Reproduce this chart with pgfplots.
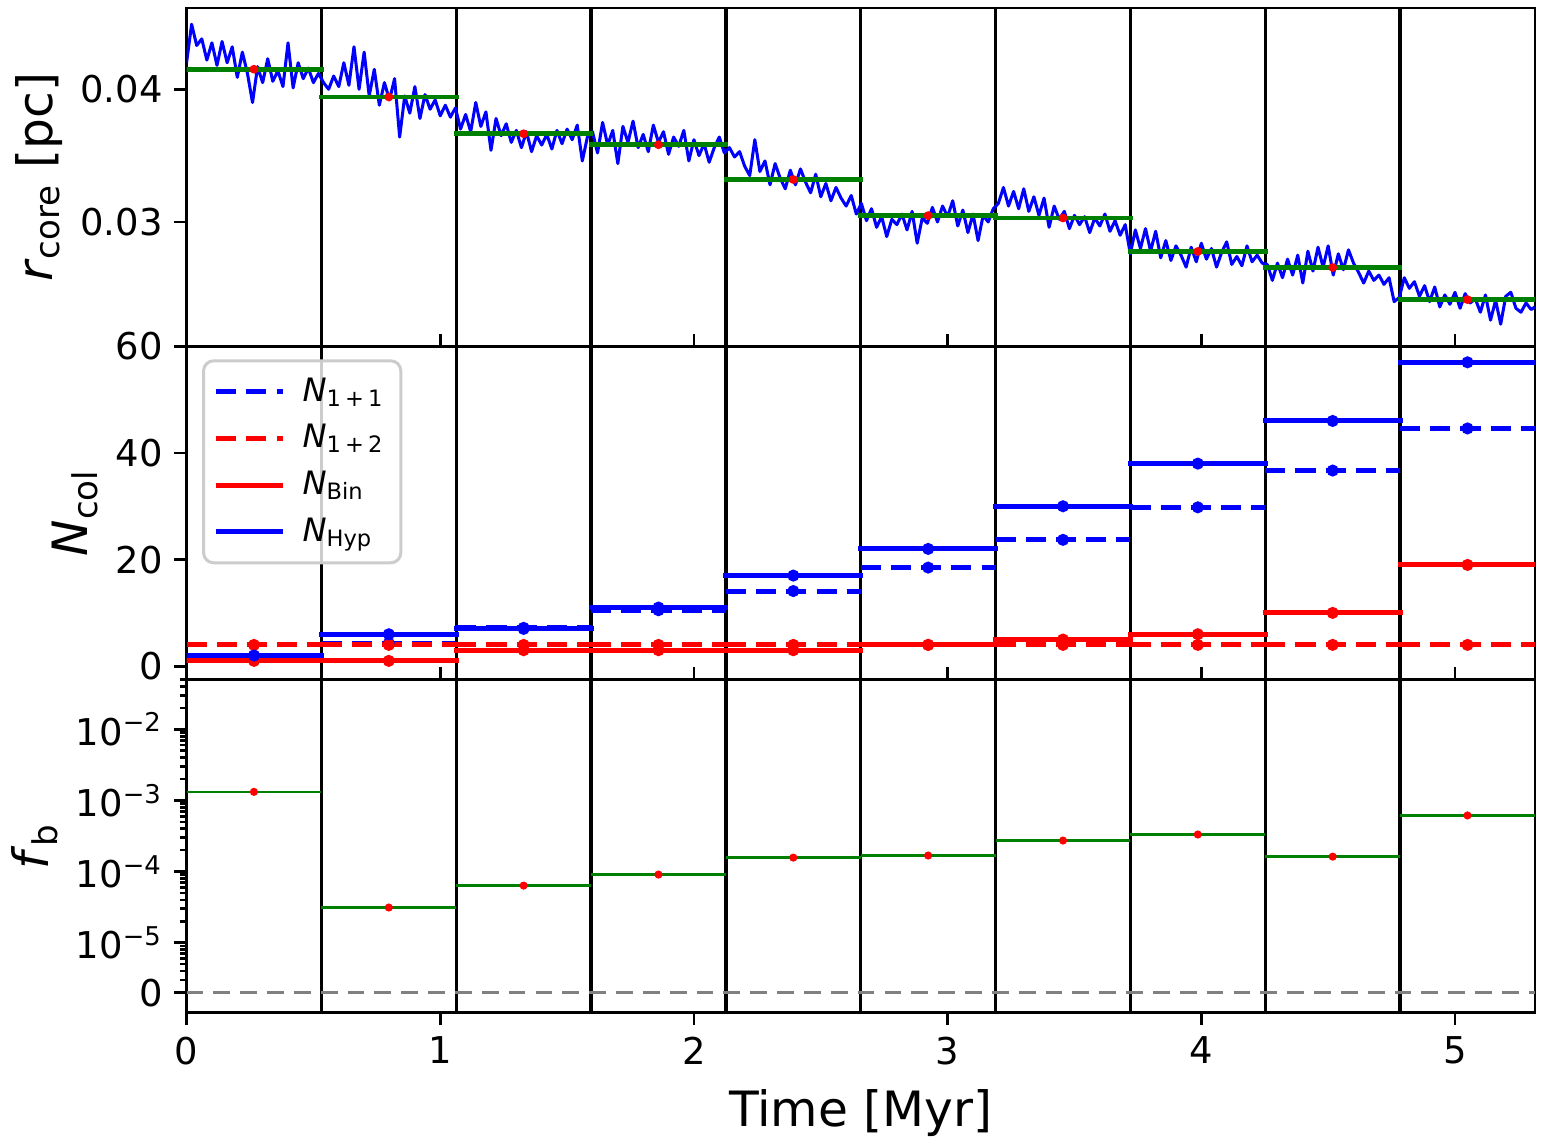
\documentclass[border=0pt]{standalone}
\usepackage{fontspec}
\setmainfont{DejaVu Sans}
\usepackage{pgfplots}
\pgfplotsset{compat=1.18}
\definecolor{mplgreen}{HTML}{008000}
\definecolor{mplred}{HTML}{FF0000}
\definecolor{mplblue}{HTML}{0000FF}

\pgfplotsset{
  chart/.style={
    scale only axis, width=401.8pt, xmin=0, xmax=5.315,
    axis line style={line width=0.8pt},
    tick style={black, line width=0.8pt},
    major tick length=3.6pt, minor tick length=2.1pt,
    tick pos=left, ytick align=outside,
    tick label style={font=\fontsize{11}{13}\selectfont},
    label style={font=\fontsize{14.5}{17}\selectfont},
    ylabel shift=-1.5pt,
    /pgf/number format/assume math mode=true,
    scaled y ticks=false,
    xtick={0,1,2,3,4,5},
    extra x ticks={0.5315,1.063,1.5945,2.126,2.6575,3.189,3.7205,4.252,4.7835},
    extra x tick labels={},
    extra x tick style={grid=major, major grid style={black, line width=1pt}, major tick length=0pt},
    unbounded coords=jump,
  },
  dashedline/.style={dash pattern=on 6pt off 3pt},
}

\pgfplotstableread{
x y
0.00 0.0420
0.02 0.0449
0.04 0.0433
0.06 0.0438
0.08 0.0422
0.10 0.0435
0.12 0.0418
0.14 0.0436
0.16 0.0420
0.18 0.0432
0.20 0.0409
0.22 0.0428
0.24 0.0412
0.26 0.0390
0.28 0.0417
0.30 0.0405
0.32 0.0423
0.34 0.0406
0.36 0.0414
0.38 0.0402
0.40 0.0435
0.42 0.0401
0.44 0.0420
0.46 0.0408
0.48 0.0416
0.50 0.0405
0.52 0.0412
0.54 0.0405
0.56 0.0400
0.58 0.0410
0.60 0.0402
0.62 0.0420
0.64 0.0403
0.66 0.0432
0.68 0.0400
0.70 0.0428
0.72 0.0395
0.74 0.0415
0.76 0.0388
0.78 0.0405
0.80 0.0392
0.82 0.0408
0.84 0.0364
0.86 0.0395
0.88 0.0382
0.90 0.0402
0.92 0.0378
0.94 0.0396
0.96 0.0385
0.98 0.0392
1.00 0.0380
1.02 0.0388
1.04 0.0379
1.06 0.0386
1.08 0.0370
1.10 0.0381
1.12 0.0368
1.14 0.0390
1.16 0.0372
1.18 0.0383
1.20 0.0354
1.22 0.0378
1.24 0.0365
1.26 0.0374
1.28 0.0360
1.30 0.0369
1.32 0.0356
1.34 0.0368
1.36 0.0353
1.38 0.0365
1.40 0.0358
1.42 0.0366
1.44 0.0355
1.46 0.0369
1.48 0.0359
1.50 0.0370
1.52 0.0362
1.54 0.0373
1.56 0.0346
1.58 0.0364
1.60 0.0368
1.62 0.0352
1.64 0.0375
1.66 0.0358
1.68 0.0369
1.70 0.0344
1.72 0.0372
1.74 0.0360
1.76 0.0376
1.78 0.0356
1.80 0.0366
1.82 0.0353
1.84 0.0373
1.86 0.0360
1.88 0.0368
1.90 0.0351
1.92 0.0364
1.94 0.0357
1.96 0.0369
1.98 0.0346
2.00 0.0362
2.02 0.0350
2.04 0.0359
2.06 0.0345
2.08 0.0356
2.10 0.0364
2.12 0.0352
2.14 0.0356
2.16 0.0349
2.18 0.0353
2.20 0.0342
2.22 0.0335
2.24 0.0362
2.26 0.0338
2.28 0.0346
2.30 0.0328
2.32 0.0344
2.34 0.0333
2.36 0.0325
2.38 0.0339
2.40 0.0328
2.42 0.0340
2.44 0.0330
2.46 0.0322
2.48 0.0336
2.50 0.0319
2.52 0.0329
2.54 0.0316
2.56 0.0326
2.58 0.0318
2.60 0.0312
2.62 0.0320
2.64 0.0306
2.66 0.0314
2.68 0.0301
2.70 0.0310
2.72 0.0296
2.74 0.0304
2.76 0.0289
2.78 0.0302
2.80 0.0298
2.82 0.0306
2.84 0.0294
2.86 0.0308
2.88 0.0284
2.90 0.0303
2.92 0.0299
2.94 0.0311
2.96 0.0300
2.98 0.0312
3.00 0.0304
3.02 0.0316
3.04 0.0297
3.06 0.0309
3.08 0.0292
3.10 0.0306
3.12 0.0286
3.14 0.0305
3.16 0.0300
3.18 0.0310
3.20 0.0314
3.22 0.0326
3.24 0.0312
3.26 0.0323
3.28 0.0310
3.30 0.0325
3.32 0.0308
3.34 0.0319
3.36 0.0305
3.38 0.0318
3.40 0.0296
3.42 0.0312
3.44 0.0302
3.46 0.0308
3.48 0.0295
3.50 0.0305
3.52 0.0298
3.54 0.0304
3.56 0.0292
3.58 0.0303
3.60 0.0297
3.62 0.0306
3.64 0.0293
3.66 0.0301
3.68 0.0290
3.70 0.0298
3.72 0.0276
3.74 0.0294
3.76 0.0280
3.78 0.0295
3.80 0.0278
3.82 0.0293
3.84 0.0273
3.86 0.0286
3.88 0.0271
3.90 0.0282
3.92 0.0275
3.94 0.0266
3.96 0.0281
3.98 0.0270
4.00 0.0284
4.02 0.0272
4.04 0.0280
4.06 0.0266
4.08 0.0277
4.10 0.0285
4.12 0.0268
4.14 0.0274
4.16 0.0267
4.18 0.0282
4.20 0.0270
4.22 0.0275
4.24 0.0269
4.26 0.0268
4.28 0.0256
4.30 0.0269
4.32 0.0258
4.34 0.0272
4.36 0.0260
4.38 0.0275
4.40 0.0254
4.42 0.0278
4.44 0.0263
4.46 0.0281
4.48 0.0266
4.50 0.0282
4.52 0.0260
4.54 0.0276
4.56 0.0264
4.58 0.0279
4.60 0.0269
4.62 0.0262
4.64 0.0254
4.66 0.0263
4.68 0.0256
4.70 0.0260
4.72 0.0253
4.74 0.0258
4.76 0.0240
4.78 0.0243
4.80 0.0258
4.82 0.0250
4.84 0.0255
4.86 0.0244
4.88 0.0252
4.90 0.0240
4.92 0.0251
4.94 0.0236
4.96 0.0245
4.98 0.0238
5.00 0.0247
5.02 0.0235
5.04 0.0246
5.06 0.0239
5.08 0.0242
5.10 0.0232
5.12 0.0245
5.14 0.0226
5.16 0.0241
5.18 0.0223
5.20 0.0244
5.22 0.0247
5.24 0.0235
5.26 0.0232
5.28 0.0239
5.30 0.0234
5.315 0.0236
}\rcore

% bin centres and binned values
\pgfplotstableread{
x rc N11 N12 NBin NHyp fb
0.26575 0.04151 2.0 4 1 2 1.32e-3
0.79725 0.03942 4.3 4 1 6 3.12e-5
1.32875 0.03665 7.2 4 3 7 6.35e-5
1.86025 0.03582 10.5 4 3 11 9.08e-5
2.39175 0.03320 14.1 4 3 17 1.57e-4
2.92325 0.03048 18.5 4 4 22 1.68e-4
3.45475 0.03030 23.7 4 5 30 2.73e-4
3.98625 0.02778 29.8 4 6 38 3.32e-4
4.51775 0.02657 36.7 4 10 46 1.62e-4
5.04925 0.02415 44.6 4 19 57 6.15e-4
}\bins

\begin{document}
\begin{tikzpicture}
% ---------------- top panel ----------------
\begin{axis}[chart, name=top, height=100.8pt,
  ymin=0.02063, ymax=0.04612, ytick={0.03,0.04}, yticklabels={0.03,0.04},
  xticklabels={}, xtick align=inside,
  ylabel={\textit{r}\textsubscript{core} [pc]}]
\addplot[mplblue, line width=0.9pt, line join=round] table[x=x,y=y] {\rcore};
\addplot[only marks, mark=*, mark size=1.1pt, mplred] table[x=x,y=rc] {\bins};
\addplot[mplgreen, line width=1.4pt, line cap=rect] coordinates {
(0,0.04151)(0.5315,0.04151)(0.5315,nan)
(0.5315,0.03942)(1.063,0.03942)(1.063,nan)
(1.063,0.03665)(1.5945,0.03665)(1.5945,nan)
(1.5945,0.03582)(2.126,0.03582)(2.126,nan)
(2.126,0.03320)(2.6575,0.03320)(2.6575,nan)
(2.6575,0.03048)(3.189,0.03048)(3.189,nan)
(3.189,0.03030)(3.7205,0.03030)(3.7205,nan)
(3.7205,0.02778)(4.252,0.02778)(4.252,nan)
(4.252,0.02657)(4.7835,0.02657)(4.7835,nan)
(4.7835,0.02415)(5.315,0.02415)};
\end{axis}
% ---------------- middle panel ----------------
\begin{axis}[chart, name=mid, at={(top.south west)}, anchor=north west, height=99.2pt,
  ymin=-2.44, ymax=60, ytick={0,20,40,60},
  xticklabels={}, xtick align=inside,
  ylabel={\textit{N}\textsubscript{col}},
  legend image code/.code={\draw[#1] (0pt,0pt) -- (20pt,0pt);},
  legend style={at={(0.0115,0.961)}, anchor=north west,
    draw=black!20, line width=0.9pt, rounded corners=3pt,
    fill=white, fill opacity=0.8, text opacity=1,
    font=\fontsize{9.6}{11}\selectfont, row sep=1.4pt,
    inner xsep=3pt, inner ysep=3pt,
    /tikz/every odd column/.append style={column sep=3pt},
    cells={anchor=west}}]
\addlegendimage{mplblue, line width=1.5pt, dashedline}
\addlegendentry{\textit{N}\textsubscript{1\hspace{0.18em}+\hspace{0.18em}1}}
\addlegendimage{mplred, line width=1.5pt, dashedline}
\addlegendentry{\textit{N}\textsubscript{1\hspace{0.18em}+\hspace{0.18em}2}}
\addlegendimage{mplred, line width=1.5pt}
\addlegendentry{\textit{N}\textsubscript{Bin}}
\addlegendimage{mplblue, line width=1.5pt}
\addlegendentry{\textit{N}\textsubscript{Hyp}}
% N_{1+1}
\addplot[forget plot, mplblue, line width=1.5pt, dashedline] coordinates {
(0,2.0)(0.5315,2.0)(0.5315,nan)
(0.5315,4.3)(1.063,4.3)(1.063,nan)
(1.063,7.2)(1.5945,7.2)(1.5945,nan)
(1.5945,10.5)(2.126,10.5)(2.126,nan)
(2.126,14.1)(2.6575,14.1)(2.6575,nan)
(2.6575,18.5)(3.189,18.5)(3.189,nan)
(3.189,23.7)(3.7205,23.7)(3.7205,nan)
(3.7205,29.8)(4.252,29.8)(4.252,nan)
(4.252,36.7)(4.7835,36.7)(4.7835,nan)
(4.7835,44.6)(5.315,44.6)};
\addplot[forget plot, only marks, mark=*, mark size=1.6pt, mplblue] table[x=x,y=N11] {\bins};
% N_{1+2}
\addplot[forget plot, mplred, line width=1.5pt, dashedline] coordinates {
(0,4)(0.5315,4)(0.5315,nan)
(0.5315,4)(1.063,4)(1.063,nan)
(1.063,4)(1.5945,4)(1.5945,nan)
(1.5945,4)(2.126,4)(2.126,nan)
(2.126,4)(2.6575,4)(2.6575,nan)
(2.6575,4)(3.189,4)(3.189,nan)
(3.189,4)(3.7205,4)(3.7205,nan)
(3.7205,4)(4.252,4)(4.252,nan)
(4.252,4)(4.7835,4)(4.7835,nan)
(4.7835,4)(5.315,4)};
\addplot[forget plot, only marks, mark=*, mark size=1.6pt, mplred] table[x=x,y=N12] {\bins};
% N_Bin
\addplot[forget plot, mplred, line width=1.5pt, line cap=rect] coordinates {
(0,1)(0.5315,1)(0.5315,nan)
(0.5315,1)(1.063,1)(1.063,nan)
(1.063,3)(1.5945,3)(1.5945,nan)
(1.5945,3)(2.126,3)(2.126,nan)
(2.126,3)(2.6575,3)(2.6575,nan)
(2.6575,4)(3.189,4)(3.189,nan)
(3.189,5)(3.7205,5)(3.7205,nan)
(3.7205,6)(4.252,6)(4.252,nan)
(4.252,10)(4.7835,10)(4.7835,nan)
(4.7835,19)(5.315,19)};
\addplot[forget plot, only marks, mark=*, mark size=1.6pt, mplred] table[x=x,y=NBin] {\bins};
% N_Hyp
\addplot[forget plot, mplblue, line width=1.5pt, line cap=rect] coordinates {
(0,2)(0.5315,2)(0.5315,nan)
(0.5315,6)(1.063,6)(1.063,nan)
(1.063,7)(1.5945,7)(1.5945,nan)
(1.5945,11)(2.126,11)(2.126,nan)
(2.126,17)(2.6575,17)(2.6575,nan)
(2.6575,22)(3.189,22)(3.189,nan)
(3.189,30)(3.7205,30)(3.7205,nan)
(3.7205,38)(4.252,38)(4.252,nan)
(4.252,46)(4.7835,46)(4.7835,nan)
(4.7835,57)(5.315,57)};
\addplot[forget plot, only marks, mark=*, mark size=1.6pt, mplblue] table[x=x,y=NHyp] {\bins};
\end{axis}
% ---------------- bottom panel ----------------
\begin{axis}[chart, name=bot, at={(mid.south west)}, anchor=north west, height=99.4pt,
  ymode=log, ymin=1.033e-6, ymax=0.0506,
  ytick={1.977e-6,1e-5,1e-4,1e-3,1e-2},
  yticklabels={0,10\textsuperscript{−5},10\textsuperscript{−4},10\textsuperscript{−3},10\textsuperscript{−2}},
  minor ytick={2e-6,3e-6,4e-6,5e-6,6e-6,7e-6,8e-6,9e-6,
               2e-5,3e-5,4e-5,5e-5,6e-5,7e-5,8e-5,9e-5,
               2e-4,3e-4,4e-4,5e-4,6e-4,7e-4,8e-4,9e-4,
               2e-3,3e-3,4e-3,5e-3,6e-3,7e-3,8e-3,9e-3,
               2e-2,3e-2,4e-2,5e-2},
  xtick align=outside,
  xlabel shift=-3pt,
  xlabel={Time [Myr]},
  ylabel={\textit{f}\textsubscript{b}}]
\addplot[gray, line width=0.9pt, dash pattern=on 5pt off 3pt] coordinates {(0,1.977e-6)(5.315,1.977e-6)};
\addplot[mplgreen, line width=0.8pt] coordinates {
(0,1.32e-3)(0.5315,1.32e-3)(0.5315,nan)
(0.5315,3.12e-5)(1.063,3.12e-5)(1.063,nan)
(1.063,6.35e-5)(1.5945,6.35e-5)(1.5945,nan)
(1.5945,9.08e-5)(2.126,9.08e-5)(2.126,nan)
(2.126,1.57e-4)(2.6575,1.57e-4)(2.6575,nan)
(2.6575,1.68e-4)(3.189,1.68e-4)(3.189,nan)
(3.189,2.73e-4)(3.7205,2.73e-4)(3.7205,nan)
(3.7205,3.32e-4)(4.252,3.32e-4)(4.252,nan)
(4.252,1.62e-4)(4.7835,1.62e-4)(4.7835,nan)
(4.7835,6.15e-4)(5.315,6.15e-4)};
\addplot[only marks, mark=*, mark size=1pt, mplred] table[x=x,y=fb] {\bins};
\end{axis}
\path (top.north east) ++(3pt,2.4pt);
\end{tikzpicture}
\end{document}
